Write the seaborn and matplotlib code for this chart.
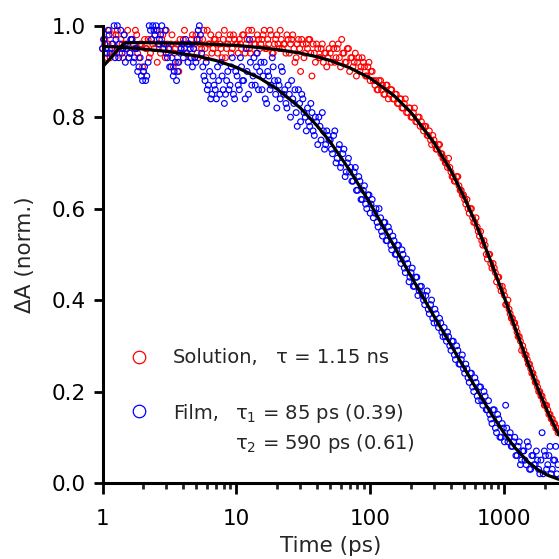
import matplotlib
matplotlib.use("Agg")
import matplotlib.pyplot as plt
import pandas as pd
import seaborn as sns
from matplotlib.ticker import FixedLocator, FixedFormatter, LogLocator, NullFormatter

# ---- data (two interleaved sets of delays) ----
time_ps = [1.00, 1.04, 1.08, 1.12, 1.17, 1.22, 1.26, 1.32, 1.37, 1.42,
           1.48, 1.54, 1.60, 1.66, 1.73, 1.80, 1.87, 1.95, 2.02, 2.10,
           2.19, 2.28, 2.37, 2.46, 2.56, 2.66, 2.77, 2.88, 2.99, 3.11,
           3.24, 3.37, 3.50, 3.64, 3.79, 3.94, 4.09, 4.26, 4.43, 4.60,
           4.79, 4.98, 5.18, 5.38, 5.60, 5.82, 6.05, 6.30, 6.55, 6.81,
           7.08, 7.36, 7.66, 7.96, 8.28, 8.61, 8.95, 9.31, 9.68, 10.1,
           10.5, 10.9, 11.3, 11.8, 12.3, 12.7, 13.3, 13.8, 14.3, 14.9,
           15.5, 16.1, 16.8, 17.4, 18.1, 18.8, 19.6, 20.4, 21.2, 22.0,
           22.9, 23.8, 24.8, 25.8, 26.8, 27.9, 29.0, 30.1, 31.3, 32.6,
           33.9, 35.2, 36.6, 38.1, 39.6, 41.2, 42.8, 44.5, 46.3, 48.2,
           50.1, 52.1, 54.2, 56.4, 58.6, 61.0, 63.4, 65.9, 68.5, 71.3,
           74.1, 77.1, 80.2, 83.4, 86.7, 90.2, 93.8, 97.5, 101, 105,
           110, 114, 119, 123, 128, 133, 139, 144, 150, 156,
           162, 169, 175, 182, 190, 197, 205, 213, 222, 231,
           240, 249, 259, 270, 281, 292, 303, 315, 328, 341,
           355, 369, 383, 399, 415, 431, 449, 467, 485, 505,
           525, 546, 567, 590, 614, 638, 664, 690, 718, 746,
           776, 807, 840, 873, 908, 944, 982, 1021, 1062, 1104,
           1148, 1194, 1242, 1291, 1343, 1396, 1452, 1510, 1570, 1633,
           1698, 1766, 1836, 1910, 1986, 2065, 2148, 2234, 2323, 2415,
           2512]

solution = [0.95, 0.97, 0.93, 0.99, 0.96, 0.94, 0.98, 0.95, 0.97, 0.93,
            0.96, 0.99, 0.94, 0.97, 0.95, 0.98, 0.93, 0.96, 0.90, 0.95,
            0.97, 0.94, 0.96, 0.98, 0.92, 0.96, 0.97, 0.95, 0.99, 0.94,
            0.96, 0.91, 0.95, 0.92, 0.97, 0.96, 0.99, 0.94, 0.96, 0.97,
            0.95, 0.98, 0.93, 0.96, 0.97, 0.95, 0.99, 0.96, 0.94, 0.97,
            0.96, 0.98, 0.95, 0.97, 0.93, 0.96, 0.98, 0.95, 0.97, 0.96,
            0.97, 0.95, 0.98, 0.96, 0.99, 0.94, 0.97, 0.96, 0.98, 0.95,
            0.97, 0.99, 0.95, 0.96, 0.98, 0.94, 0.97, 0.96, 0.99, 0.95,
            0.96, 0.98, 0.94, 0.97, 0.95, 0.93, 0.97, 0.90, 0.96, 0.94,
            0.95, 0.97, 0.89, 0.94, 0.96, 0.93, 0.95, 0.92, 0.94, 0.93,
            0.94, 0.96, 0.92, 0.95, 0.93, 0.97, 0.94, 0.92, 0.95, 0.93,
            0.91, 0.94, 0.92, 0.90, 0.93, 0.91, 0.89, 0.92, 0.90, 0.88,
            0.88, 0.86, 0.88, 0.87, 0.85, 0.87, 0.85, 0.86, 0.84, 0.85,
            0.83, 0.84, 0.82, 0.84, 0.81, 0.82, 0.80, 0.82, 0.79, 0.80,
            0.79, 0.77, 0.78, 0.76, 0.75, 0.76, 0.74, 0.73, 0.74, 0.72,
            0.71, 0.70, 0.71, 0.68, 0.67, 0.66, 0.67, 0.64, 0.63, 0.62,
            0.62, 0.59, 0.60, 0.57, 0.58, 0.55, 0.55, 0.52, 0.52, 0.49,
            0.50, 0.47, 0.47, 0.44, 0.45, 0.42, 0.42, 0.39, 0.40, 0.37,
            0.36, 0.35, 0.33, 0.32, 0.29, 0.29, 0.28, 0.26, 0.25, 0.24,
            0.22, 0.21, 0.20, 0.19, 0.17, 0.17, 0.15, 0.14, 0.13, 0.12,
            0.11]

film = [0.95, 0.96, 0.94, 0.98, 0.95, 1.00, 0.97, 0.93, 0.99, 0.95,
        0.92, 0.96, 0.94, 0.97, 0.93, 0.95, 0.91, 0.89, 0.90, 0.88,
        0.92, 0.99, 1.00, 0.98, 0.99, 0.97, 1.00, 0.96, 0.94, 0.95,
        0.91, 0.89, 0.92, 0.90, 0.94, 0.96, 0.95, 0.94, 0.96, 0.93,
        0.95, 0.92, 0.99, 0.98, 0.91, 0.88, 0.86, 0.90, 0.85, 0.87,
        0.84, 0.88, 0.92, 0.86, 0.85, 0.90, 0.87, 0.93, 0.84, 0.89,
        0.86, 0.91, 0.88, 0.95, 0.85, 0.92, 0.89, 0.87, 0.94, 0.90,
        0.86, 0.92, 0.83, 0.89, 0.87, 0.91, 0.85, 0.88, 0.84, 0.90,
        0.86, 0.82, 0.85, 0.88, 0.83, 0.81, 0.86, 0.79, 0.84, 0.80,
        0.82, 0.78, 0.81, 0.76, 0.79, 0.80, 0.75, 0.77, 0.74, 0.76,
        0.75, 0.72, 0.77, 0.71, 0.74, 0.70, 0.73, 0.68, 0.71, 0.69,
        0.66, 0.69, 0.64, 0.66, 0.62, 0.65, 0.60, 0.63, 0.61, 0.58,
        0.60, 0.56, 0.58, 0.54, 0.57, 0.53, 0.55, 0.51, 0.53, 0.50,
        0.52, 0.48, 0.50, 0.46, 0.48, 0.45, 0.47, 0.43, 0.45, 0.42,
        0.43, 0.40, 0.41, 0.38, 0.39, 0.36, 0.38, 0.35, 0.36, 0.33,
        0.34, 0.31, 0.32, 0.29, 0.31, 0.27, 0.29, 0.26, 0.28, 0.24,
        0.25, 0.22, 0.24, 0.20, 0.22, 0.18, 0.21, 0.17, 0.19, 0.16,
        0.15, 0.13, 0.16, 0.11, 0.14, 0.10, 0.12, 0.17, 0.09, 0.11,
        0.08, 0.10, 0.06, 0.09, 0.05, 0.07, 0.04, 0.08, 0.03, 0.06,
        0.04, 0.05, 0.02, 0.11, 0.07, 0.03, 0.06, 0.02, 0.05, 0.08,
        0.04]

time_ps_b = [1.02, 1.06, 1.10, 1.14, 1.19, 1.24, 1.29, 1.34, 1.40, 1.45,
             1.51, 1.57, 1.63, 1.70, 1.76, 1.83, 1.91, 1.99, 2.06, 2.14,
             2.23, 2.32, 2.42, 2.51, 2.61, 2.71, 2.82, 2.94, 3.05, 3.17,
             3.30, 3.43, 3.57, 3.71, 3.86, 4.01, 4.17, 4.34, 4.52, 4.69,
             4.88, 5.08, 5.28, 5.49, 5.71, 5.94, 6.17, 6.42, 6.68, 6.94,
             7.22, 7.51, 7.81, 8.12, 8.44, 8.78, 9.13, 9.49, 9.87, 10.3,
             10.7, 11.1, 11.6, 12.0, 12.5, 13.0, 13.5, 14.1, 14.6, 15.2,
             15.8, 16.4, 17.1, 17.8, 18.5, 19.2, 20.0, 20.8, 21.6, 22.5,
             23.4, 24.3, 25.3, 26.3, 27.3, 28.4, 29.6, 30.7, 31.9, 33.2,
             34.5, 35.9, 37.3, 38.8, 40.4, 42.0, 43.7, 45.4, 47.2, 49.1,
             51.1, 53.1, 55.3, 57.5, 59.8, 62.2, 64.7, 67.2, 69.9, 72.7,
             75.6, 78.6, 81.8, 85.0, 88.4, 92.0, 95.7, 99.5, 103, 108,
             112, 116, 121, 126, 131, 136, 142, 147, 153, 159,
             166, 172, 179, 186, 194, 201, 209, 218, 226, 235,
             245, 254, 265, 275, 286, 298, 309, 322, 335, 348,
             362, 376, 391, 407, 423, 440, 458, 476, 495, 515,
             535, 557, 579, 602, 626, 651, 677, 704, 732, 761,
             791, 823, 856, 890, 926, 963, 1001, 1041, 1083, 1126,
             1171, 1218, 1266, 1317, 1369, 1424, 1481, 1540, 1601, 1665,
             1732, 1801, 1873, 1948, 2025, 2106, 2190, 2278, 2369, 2463]

solution_b = [0.97, 0.94, 0.96, 0.93, 0.98, 0.95, 0.99, 0.94, 0.96, 0.98,
              0.95, 0.93, 0.97, 0.96, 0.99, 0.94, 0.96, 0.91, 0.97, 0.95,
              0.93, 0.97, 0.95, 0.99, 0.96, 0.94, 0.98, 0.93, 0.96, 0.95,
              0.98, 0.94, 0.96, 0.90, 0.95, 0.97, 0.94, 0.96, 0.93, 0.98,
              0.96, 0.94, 0.97, 0.95, 0.99, 0.93, 0.96, 0.98, 0.95, 0.97,
              0.94, 0.96, 0.93, 0.99, 0.95, 0.97, 0.94, 0.98, 0.96, 0.94,
              0.96, 0.98, 0.94, 0.97, 0.95, 0.99, 0.96, 0.94, 0.97, 0.96,
              0.98, 0.95, 0.97, 0.99, 0.94, 0.96, 0.98, 0.95, 0.97, 0.96,
              0.94, 0.97, 0.96, 0.98, 0.92, 0.96, 0.95, 0.97, 0.93, 0.96,
              0.97, 0.94, 0.96, 0.92, 0.95, 0.93, 0.96, 0.94, 0.91, 0.95,
              0.92, 0.95, 0.93, 0.96, 0.91, 0.94, 0.92, 0.95, 0.90, 0.93,
              0.92, 0.89, 0.93, 0.91, 0.92, 0.89, 0.91, 0.88, 0.90, 0.87,
              0.86, 0.88, 0.86, 0.85, 0.87, 0.84, 0.86, 0.84, 0.85, 0.83,
              0.84, 0.82, 0.83, 0.81, 0.82, 0.80, 0.81, 0.79, 0.80, 0.78,
              0.78, 0.78, 0.76, 0.77, 0.74, 0.75, 0.73, 0.74, 0.72, 0.71,
              0.70, 0.69, 0.69, 0.67, 0.66, 0.67, 0.65, 0.64, 0.63, 0.61,
              0.60, 0.60, 0.58, 0.57, 0.56, 0.54, 0.53, 0.53, 0.50, 0.50,
              0.48, 0.48, 0.46, 0.45, 0.43, 0.43, 0.41, 0.39, 0.38, 0.36,
              0.35, 0.34, 0.32, 0.31, 0.30, 0.28, 0.27, 0.26, 0.24, 0.23,
              0.22, 0.20, 0.19, 0.18, 0.17, 0.16, 0.15, 0.14, 0.13, 0.12]

film_b = [0.97, 0.95, 0.99, 0.94, 0.96, 0.93, 1.00, 0.96, 0.94, 0.98,
          0.95, 0.93, 0.97, 0.92, 0.95, 0.90, 0.93, 0.88, 0.91, 0.89,
          1.00, 0.97, 0.99, 1.00, 0.96, 0.98, 0.95, 0.99, 0.93, 0.91,
          0.93, 0.90, 0.88, 0.92, 0.95, 0.93, 0.97, 0.92, 0.95, 0.91,
          0.93, 0.97, 1.00, 0.94, 0.89, 0.92, 0.87, 0.84, 0.89, 0.86,
          0.91, 0.85, 0.89, 0.83, 0.88, 0.86, 0.91, 0.85, 0.90, 0.87,
          0.93, 0.88, 0.84, 0.90, 0.97, 0.87, 0.93, 0.91, 0.86, 0.92,
          0.89, 0.84, 0.90, 0.86, 0.93, 0.88, 0.82, 0.87, 0.91, 0.85,
          0.83, 0.87, 0.80, 0.84, 0.86, 0.78, 0.83, 0.85, 0.81, 0.77,
          0.79, 0.83, 0.77, 0.80, 0.74, 0.78, 0.81, 0.73, 0.77, 0.75,
          0.73, 0.76, 0.70, 0.73, 0.69, 0.72, 0.67, 0.70, 0.68, 0.66,
          0.68, 0.64, 0.67, 0.62, 0.64, 0.61, 0.63, 0.59, 0.62, 0.59,
          0.57, 0.60, 0.55, 0.57, 0.53, 0.56, 0.52, 0.54, 0.50, 0.52,
          0.49, 0.51, 0.47, 0.49, 0.44, 0.46, 0.43, 0.45, 0.41, 0.43,
          0.41, 0.39, 0.42, 0.37, 0.40, 0.35, 0.37, 0.34, 0.35, 0.32,
          0.32, 0.33, 0.30, 0.31, 0.28, 0.30, 0.26, 0.27, 0.25, 0.26,
          0.23, 0.24, 0.21, 0.23, 0.19, 0.21, 0.18, 0.20, 0.16, 0.18,
          0.14, 0.16, 0.12, 0.15, 0.10, 0.13, 0.09, 0.12, 0.10, 0.08,
          0.09, 0.06, 0.08, 0.04, 0.07, 0.05, 0.09, 0.03, 0.06, 0.04,
          0.07, 0.03, 0.05, 0.02, 0.06, 0.04, 0.08, 0.03, 0.05, 0.02]

fit_time = [1, 1.1, 1.2, 1.3, 1.45, 1.7, 2, 3, 5, 7, 10, 15, 20, 30, 40, 50,
            70, 100, 150, 200, 300, 400, 500, 600, 700, 800, 1000, 1200,
            1500, 1800, 2100, 2550]
fit_solution = [0.910, 0.923, 0.936, 0.947, 0.962, 0.963, 0.963, 0.962,
                0.961, 0.959, 0.957, 0.952, 0.948, 0.940, 0.932, 0.924,
                0.908, 0.885, 0.847, 0.811, 0.743, 0.682, 0.625, 0.573,
                0.525, 0.481, 0.405, 0.340, 0.262, 0.202, 0.156, 0.105]
fit_film = [0.955, 0.954, 0.954, 0.953, 0.952, 0.951, 0.949, 0.944,
            0.934, 0.924, 0.909, 0.885, 0.862, 0.820, 0.781, 0.746,
            0.684, 0.610, 0.518, 0.453, 0.363, 0.301, 0.252, 0.212,
            0.179, 0.151, 0.108, 0.077, 0.046, 0.028, 0.017, 0.008]

x_ticks = [1, 10, 100, 1000]
x_tick_labels = ["1", "10", "100", "1000"]
y_ticks = [0.0, 0.2, 0.4, 0.6, 0.8, 1.0]
y_tick_labels = ["0.0", "0.2", "0.4", "0.6", "0.8", "1.0"]

legend_solution = ["Solution,", "\u03c4 = 1.15 ns"]
legend_film = ["Film,", "\u03c4$_1$ = 85 ps (0.39)", "\u03c4$_2$ = 590 ps (0.61)"]

# ---- style ----
sns.set_style("ticks")
plt.rcParams["font.family"] = ["DejaVu Sans"]
plt.rcParams["mathtext.default"] = "regular"
FS = 15.5

fig = plt.figure(figsize=(5.59, 5.59), dpi=100)
ax = fig.add_axes([0.1834, 0.1360, 0.8166, 0.8180])
ax.set_xscale("log")

df = pd.DataFrame({"t": time_ps + time_ps_b,
                   "solution": solution + solution_b,
                   "film": film + film_b})
fit_df = pd.DataFrame({"t": fit_time, "solution": fit_solution, "film": fit_film})

sns.scatterplot(data=df, x="t", y="solution", ax=ax, marker="o", s=17,
                facecolors="none", edgecolor="#FF0000", linewidth=0.85,
                clip_on=False, zorder=2)
sns.scatterplot(data=df, x="t", y="film", ax=ax, marker="o", s=17,
                facecolors="none", edgecolor="#0000FF", linewidth=0.85,
                clip_on=False, zorder=2)
sns.lineplot(data=fit_df, x="t", y="solution", ax=ax, color="black",
             linewidth=2.3, estimator=None, zorder=3)
sns.lineplot(data=fit_df, x="t", y="film", ax=ax, color="black",
             linewidth=2.3, estimator=None, zorder=3)

ax.set_xlim(1, 2555)
ax.set_ylim(0, 1.0)

ax.xaxis.set_major_locator(FixedLocator(x_ticks))
ax.xaxis.set_major_formatter(FixedFormatter(x_tick_labels))
ax.xaxis.set_minor_locator(LogLocator(base=10, subs=(2, 3, 4, 5, 6, 7, 8, 9), numticks=20))
ax.xaxis.set_minor_formatter(NullFormatter())
ax.yaxis.set_major_locator(FixedLocator(y_ticks))
ax.yaxis.set_major_formatter(FixedFormatter(y_tick_labels))

for side in ["top", "right"]:
    ax.spines[side].set_visible(False)
for side in ["left", "bottom"]:
    ax.spines[side].set_linewidth(2.2)
    ax.spines[side].set_color("black")

ax.tick_params(axis="x", which="major", direction="out", length=8, width=2.0,
               pad=11, labelsize=FS, colors="black")
ax.tick_params(axis="x", which="minor", direction="out", length=4.5, width=2.0)
ax.tick_params(axis="y", which="major", direction="out", length=6.5, width=2.0,
               pad=5.5, labelsize=FS, colors="black")

ax.set_xlabel("Time (ps)", fontsize=FS, labelpad=5)
ax.set_ylabel("\u0394A (norm.)", fontsize=FS, labelpad=12)

# legend-like annotation
LFS = 14
ax.plot([0.080], [0.2755], marker="o", ms=9, mfc="none", mec="#FF0000",
        mew=0.9, transform=ax.transAxes, clip_on=False)
ax.plot([0.080], [0.157], marker="o", ms=9, mfc="none", mec="#0000FF",
        mew=0.9, transform=ax.transAxes, clip_on=False)
ax.text(0.1545, 0.2624, legend_solution[0], transform=ax.transAxes,
        fontsize=LFS, va="baseline", ha="left")
ax.text(0.380, 0.2624, legend_solution[1], transform=ax.transAxes,
        fontsize=LFS, va="baseline", ha="left")
ax.text(0.1545, 0.139, legend_film[0], transform=ax.transAxes,
        fontsize=LFS, va="baseline", ha="left")
ax.text(0.290, 0.139, legend_film[1], transform=ax.transAxes,
        fontsize=LFS, va="baseline", ha="left")
ax.text(0.290, 0.0744, legend_film[2], transform=ax.transAxes,
        fontsize=LFS, va="baseline", ha="left")

fig.savefig("out.png", dpi=100)
